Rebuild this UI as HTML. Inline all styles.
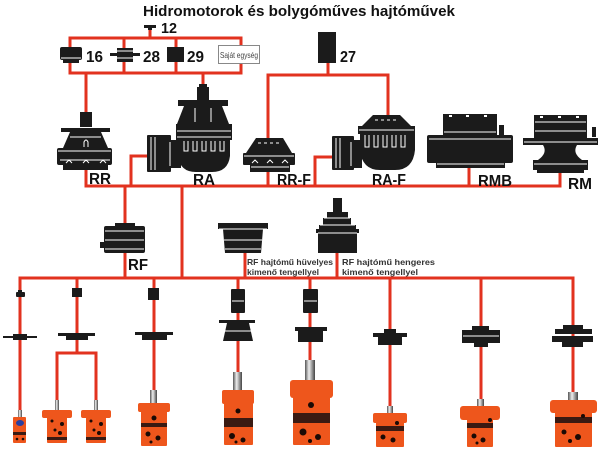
<!DOCTYPE html>
<html><head><meta charset="utf-8"><style>
html,body{margin:0;padding:0;background:#fff;}
svg{display:block;}
text{font-family:"Liberation Sans",Arial,sans-serif;font-weight:bold;}
</style></head><body>
<svg width="600" height="453" viewBox="0 0 600 453" xmlns="http://www.w3.org/2000/svg">
<defs>
<linearGradient id="sh" x1="0" x2="1" y1="0" y2="0">
<stop offset="0" stop-color="#555"/><stop offset="0.4" stop-color="#eee"/><stop offset="0.7" stop-color="#999"/><stop offset="1" stop-color="#444"/>
</linearGradient>
</defs>
<rect width="600" height="453" fill="#fff"/>

<!-- Title -->
<text x="143" y="16" font-size="14.5" fill="#111" textLength="312" lengthAdjust="spacingAndGlyphs">Hidromotorok és bolygóműves hajtóművek</text>

<!-- Red connector lines -->
<g stroke="#e2321f" stroke-width="3" fill="none" stroke-linecap="square">
 <!-- top frame -->
 <line x1="150" y1="28" x2="150" y2="38"/>
 <line x1="70" y1="38" x2="241" y2="38"/>
 <line x1="70" y1="73" x2="241" y2="73"/>
 <line x1="70" y1="38" x2="70" y2="73"/>
 <line x1="124" y1="38" x2="124" y2="73"/>
 <line x1="176" y1="38" x2="176" y2="73"/>
 <line x1="241" y1="38" x2="241" y2="73"/>
 <line x1="86" y1="73" x2="86" y2="112"/>
 <line x1="203" y1="73" x2="203" y2="86"/>
 <!-- 27 -->
 <line x1="328" y1="63" x2="328" y2="75"/>
 <line x1="268" y1="75" x2="388" y2="75"/>
 <line x1="268" y1="75" x2="268" y2="139"/>
 <line x1="388" y1="75" x2="388" y2="116"/>
 <!-- main bar -->
 <line x1="86" y1="170" x2="86" y2="186"/>
 <line x1="86" y1="186" x2="560" y2="186"/>
 <polyline points="131,186 131,156 148,156"/>
 <line x1="268" y1="172" x2="268" y2="186"/>
 <polyline points="315,186 315,157 332,157"/>
 <line x1="469" y1="168" x2="469" y2="186"/>
 <line x1="560" y1="172" x2="560" y2="186"/>
 <line x1="125" y1="186" x2="125" y2="223"/>
 <line x1="182" y1="186" x2="182" y2="278"/>
 <!-- second bar -->
 <line x1="20" y1="278" x2="573" y2="278"/>
 <line x1="125" y1="253" x2="125" y2="278"/>
 <line x1="245" y1="253" x2="245" y2="278"/>
 <line x1="337" y1="253" x2="337" y2="278"/>
 <!-- drops -->
 <line x1="20" y1="278" x2="20" y2="411"/>
 <line x1="77" y1="278" x2="77" y2="353"/>
 <line x1="57" y1="353" x2="96" y2="353"/>
 <line x1="57" y1="353" x2="57" y2="401"/>
 <line x1="96" y1="353" x2="96" y2="401"/>
 <line x1="154" y1="278" x2="154" y2="391"/>
 <line x1="238" y1="278" x2="238" y2="373"/>
 <line x1="310" y1="278" x2="310" y2="361"/>
 <line x1="390" y1="278" x2="390" y2="407"/>
 <line x1="481" y1="278" x2="481" y2="400"/>
 <line x1="573" y1="278" x2="573" y2="393"/>
</g>

<!-- Top small components -->
<g fill="#1b1b1b">
 <rect x="144" y="25" width="12" height="3"/>
 <rect x="148" y="27" width="4" height="3"/>
 <!-- 16 -->
 <rect x="60" y="47" width="22" height="13" rx="2"/>
 <rect x="63" y="59" width="16" height="4"/>
 <!-- 28 -->
 <rect x="110" y="53" width="30" height="3"/>
 <rect x="117" y="48" width="16" height="14"/>
 <!-- 29 -->
 <rect x="167" y="47" width="17" height="15"/>
 <!-- 27 -->
 <rect x="318" y="32" width="18" height="31"/>
</g>
<g stroke="#fff" stroke-width="1">
 <line x1="117" y1="51" x2="133" y2="51"/>
 <line x1="117" y1="58" x2="133" y2="58"/>
 <line x1="61" y1="58" x2="81" y2="58"/>
</g>
<rect x="218.5" y="45.5" width="41" height="18" fill="#fff" stroke="#888" stroke-width="1"/>
<text x="220" y="58" font-size="8.5" fill="#444" font-weight="normal" style="font-weight:normal" textLength="38" lengthAdjust="spacingAndGlyphs">Saját egység</text>

<g font-size="16" fill="#111">
 <text x="161" y="33" font-size="15" textLength="16" lengthAdjust="spacingAndGlyphs">12</text>
 <text x="86" y="62" textLength="17" lengthAdjust="spacingAndGlyphs">16</text>
 <text x="143" y="62" textLength="17" lengthAdjust="spacingAndGlyphs">28</text>
 <text x="187" y="62" textLength="17" lengthAdjust="spacingAndGlyphs">29</text>
 <text x="340" y="62" textLength="16" lengthAdjust="spacingAndGlyphs">27</text>
</g>

<!-- RR -->
<g fill="#1b1b1b">
 <rect x="80" y="112" width="12" height="15"/>
 <rect x="61" y="128" width="49" height="4"/>
 <path d="M70 132 L101 132 L108 148 L63 148 Z"/>
 <rect x="57" y="148" width="55" height="17" rx="2"/>
 <rect x="63" y="164" width="45" height="6"/>
</g>
<g stroke="#fff" stroke-width="1" fill="none">
 <line x1="70" y1="137" x2="101" y2="137"/>
 <path d="M84 147 L84 142 Q86 138 88 142 L88 147"/>
 <line x1="58" y1="151" x2="111" y2="151"/>
 <line x1="60" y1="160" x2="110" y2="160"/>
 <path d="M66 163 l3 -3 l3 3 M83 163 l3 -3 l3 3 M100 163 l3 -3 l3 3"/>
</g>

<!-- RA -->
<g fill="#1b1b1b">
 <rect x="199" y="84" width="8" height="4"/>
 <rect x="197" y="87" width="12" height="14"/>
 <rect x="178" y="100" width="50" height="6"/>
 <path d="M184 106 L222 106 L229 124 L177 124 Z"/>
 <rect x="176" y="124" width="56" height="16"/>
 <path d="M178 140 L230 140 L230 156 Q228 172 212 172 L196 172 Q180 172 178 156 Z"/>
 <rect x="147" y="135" width="24" height="37" rx="1"/>
 <rect x="169" y="140" width="12" height="28"/>
</g>
<g stroke="#fff" stroke-width="1" fill="none">
 <line x1="195" y1="108" x2="195" y2="122"/>
 <line x1="211" y1="108" x2="211" y2="122"/>
 <line x1="177" y1="131" x2="231" y2="131"/>
 <line x1="177" y1="137" x2="231" y2="137"/>
 <path d="M184 141 v10 h4 v-10 M193 141 v10 h4 v-10 M202 141 v10 h4 v-10 M211 141 v10 h4 v-10 M220 141 v10 h4 v-10"/>
 <line x1="151" y1="137" x2="151" y2="170"/>
 <line x1="155" y1="137" x2="155" y2="170"/>
 <line x1="170" y1="142" x2="170" y2="166"/>
</g>

<!-- RR-F -->
<g fill="#1b1b1b">
 <path d="M256 138 L283 138 L292 153 L246 153 Z"/>
 <rect x="243" y="153" width="52" height="12" rx="1"/>
 <rect x="250" y="164" width="40" height="8"/>
</g>
<g stroke="#fff" stroke-width="1" fill="none">
 <line x1="258" y1="143" x2="281" y2="143" stroke-dasharray="3 3"/>
 <line x1="244" y1="156" x2="294" y2="156"/>
 <path d="M252 163 l3 -3 l3 3 M267 163 l3 -3 l3 3 M282 163 l3 -3 l3 3"/>
 <line x1="251" y1="167" x2="289" y2="167"/>
</g>

<!-- RA-F -->
<g fill="#1b1b1b">
 <path d="M373 115 L400 115 L411 126 L362 126 Z"/>
 <rect x="358" y="126" width="57" height="8"/>
 <path d="M360 134 L415 134 L415 150 Q413 170 395 170 L380 170 Q362 170 360 150 Z"/>
 <rect x="332" y="136" width="22" height="34" rx="1"/>
 <rect x="350" y="140" width="12" height="28"/>
</g>
<g stroke="#fff" stroke-width="1" fill="none">
 <line x1="375" y1="120" x2="398" y2="120" stroke-dasharray="3 3"/>
 <line x1="359" y1="130" x2="414" y2="130"/>
 <path d="M365 135 v12 h4 v-12 M374 135 v12 h4 v-12 M383 135 v12 h4 v-12 M392 135 v12 h4 v-12 M401 135 v12 h4 v-12"/>
 <line x1="336" y1="138" x2="336" y2="168"/>
 <line x1="340" y1="138" x2="340" y2="168"/>
 <line x1="351" y1="142" x2="351" y2="166"/>
</g>

<!-- RMB -->
<g fill="#1b1b1b">
 <rect x="443" y="114" width="54" height="21"/>
 <rect x="499" y="125" width="5" height="10"/>
 <rect x="427" y="135" width="86" height="28" rx="2"/>
 <rect x="436" y="162" width="69" height="6"/>
</g>
<g fill="#fff">
 <rect x="449" y="115" width="3" height="2"/><rect x="466" y="115" width="3" height="2"/><rect x="484" y="115" width="3" height="2"/>
</g>
<g stroke="#fff" stroke-width="1">
 <line x1="444" y1="132" x2="496" y2="132"/>
 <line x1="429" y1="139" x2="511" y2="139"/>
 <line x1="437" y1="164" x2="504" y2="164"/>
</g>

<!-- RM -->
<g fill="#1b1b1b">
 <rect x="534" y="115" width="53" height="23"/>
 <rect x="592" y="127" width="4" height="10"/>
 <rect x="523" y="138" width="75" height="7"/>
 <path d="M543 145 L577 145 Q572 153 582 160 L538 160 Q548 153 543 145 Z"/>
 <rect x="533" y="160" width="55" height="10"/>
 <rect x="537" y="169" width="47" height="4"/>
</g>
<g fill="#fff">
 <rect x="540" y="116" width="3" height="2"/><rect x="558" y="116" width="3" height="2"/><rect x="576" y="116" width="3" height="2"/>
</g>
<g stroke="#fff" stroke-width="1">
 <line x1="535" y1="122" x2="586" y2="122"/>
 <line x1="535" y1="131" x2="586" y2="131"/>
 <line x1="524" y1="142" x2="597" y2="142"/>
 <line x1="534" y1="164" x2="587" y2="164"/>
</g>

<!-- Top labels -->
<g font-size="16" fill="#111">
 <text x="89" y="184" textLength="22" lengthAdjust="spacingAndGlyphs">RR</text>
 <text x="193" y="185" textLength="22" lengthAdjust="spacingAndGlyphs">RA</text>
 <text x="277" y="185" textLength="34" lengthAdjust="spacingAndGlyphs">RR-F</text>
 <text x="372" y="185" textLength="34" lengthAdjust="spacingAndGlyphs">RA-F</text>
 <text x="478" y="186" textLength="34" lengthAdjust="spacingAndGlyphs">RMB</text>
 <text x="568" y="189" textLength="24" lengthAdjust="spacingAndGlyphs">RM</text>
 <text x="128" y="270" textLength="20" lengthAdjust="spacingAndGlyphs">RF</text>
</g>

<!-- RF -->
<g fill="#1b1b1b">
 <rect x="115" y="223" width="20" height="4"/>
 <rect x="104" y="226" width="41" height="27" rx="2"/>
 <rect x="100" y="242" width="5" height="6"/>
</g>
<g stroke="#fff" stroke-width="1">
 <line x1="105" y1="231" x2="144" y2="231"/>
 <line x1="105" y1="240" x2="144" y2="240"/>
 <line x1="105" y1="249" x2="144" y2="249"/>
</g>

<!-- RF hüvelyes -->
<g fill="#1b1b1b">
 <rect x="218" y="223" width="50" height="6"/>
 <path d="M223 229 L263 229 L261 253 L225 253 Z"/>
</g>
<g stroke="#fff" stroke-width="1">
 <line x1="219" y1="229" x2="267" y2="229"/>
 <line x1="224" y1="240" x2="262" y2="240"/>
 <line x1="225" y1="249" x2="261" y2="249"/>
</g>

<!-- RF hengeres (joystick) -->
<g fill="#1b1b1b">
 <rect x="333" y="198" width="9" height="15"/>
 <rect x="327" y="212" width="21" height="6"/>
 <rect x="323" y="218" width="28" height="7"/>
 <rect x="319" y="225" width="37" height="5"/>
 <rect x="316" y="229" width="43" height="4"/>
 <rect x="318" y="233" width="39" height="20"/>
</g>
<g stroke="#fff" stroke-width="1">
 <line x1="324" y1="218" x2="350" y2="218"/>
 <line x1="320" y1="225" x2="355" y2="225"/>
 <line x1="318" y1="233" x2="357" y2="233"/>
</g>

<g font-size="8.5" fill="#333">
 <text x="247" y="265" textLength="86" lengthAdjust="spacingAndGlyphs">RF hajtómű hüvelyes</text>
 <text x="247" y="275" textLength="72" lengthAdjust="spacingAndGlyphs">kimenő tengellyel</text>
 <text x="342" y="265" textLength="93" lengthAdjust="spacingAndGlyphs">RF hajtómű hengeres</text>
 <text x="342" y="275" textLength="76" lengthAdjust="spacingAndGlyphs">kimenő tengellyel</text>
</g>

<!-- Drop components -->
<g fill="#1b1b1b">
 <!-- drop 1 -->
 <rect x="18" y="290" width="4" height="3"/>
 <rect x="16" y="292" width="9" height="5" rx="1"/>
 <rect x="3" y="336" width="34" height="2"/>
 <rect x="13" y="334" width="14" height="6"/>
 <!-- drop 2 -->
 <rect x="72" y="288" width="10" height="9"/>
 <rect x="58" y="333" width="37" height="3"/>
 <rect x="66" y="335" width="22" height="5"/>
 <!-- drop 3 -->
 <rect x="148" y="288" width="11" height="12"/>
 <rect x="135" y="332" width="38" height="3"/>
 <rect x="142" y="334" width="25" height="6"/>
 <!-- drop 4 -->
 <rect x="231" y="289" width="14" height="24" rx="1"/>
 <rect x="219" y="320" width="36" height="3"/>
 <path d="M227 323 L249 323 L253 341 L223 341 Z"/>
 <!-- drop 5 -->
 <rect x="303" y="289" width="15" height="24" rx="1"/>
 <rect x="295" y="327" width="32" height="4"/>
 <rect x="298" y="331" width="25" height="11"/>
 <!-- drop 6 -->
 <rect x="384" y="329" width="12" height="4"/>
 <rect x="373" y="333" width="34" height="4"/>
 <rect x="378" y="337" width="24" height="8"/>
 <!-- drop 7 -->
 <rect x="472" y="326" width="17" height="4"/>
 <rect x="462" y="330" width="38" height="13"/>
 <rect x="474" y="343" width="14" height="4"/>
 <!-- drop 8 -->
 <rect x="563" y="325" width="20" height="4"/>
 <rect x="555" y="329" width="37" height="5"/>
 <rect x="552" y="336" width="41" height="6"/>
 <rect x="562" y="342" width="21" height="5"/>
</g>
<g stroke="#fff" stroke-width="1">
 <line x1="232" y1="301" x2="244" y2="301"/>
 <line x1="304" y1="301" x2="317" y2="301"/>
 <line x1="224" y1="331" x2="252" y2="331"/>
 <line x1="463" y1="336" x2="499" y2="336"/>
</g>

<!-- Motors -->
<g>
 <!-- shafts -->
 <rect x="18" y="410" width="4" height="8" fill="url(#sh)"/>
 <rect x="55" y="400" width="4" height="11" fill="url(#sh)"/>
 <rect x="94" y="400" width="4" height="11" fill="url(#sh)"/>
 <rect x="150" y="390" width="7" height="14" fill="url(#sh)"/>
 <rect x="233" y="372" width="9" height="19" fill="url(#sh)"/>
 <rect x="305" y="360" width="10" height="21" fill="url(#sh)"/>
 <rect x="387" y="406" width="6" height="8" fill="url(#sh)"/>
 <rect x="477" y="399" width="7" height="8" fill="url(#sh)"/>
 <rect x="568" y="392" width="10" height="9" fill="url(#sh)"/>
</g>
<g fill="#ee561c">
 <!-- motor 1 -->
 <rect x="13" y="417" width="13" height="26" rx="1"/>
 <!-- motor 2a -->
 <rect x="42" y="410" width="30" height="8" rx="2"/>
 <rect x="47" y="417" width="20" height="26" rx="1"/>
 <!-- motor 2b -->
 <rect x="81" y="410" width="30" height="8" rx="2"/>
 <rect x="86" y="417" width="20" height="26" rx="1"/>
 <!-- motor 3 -->
 <rect x="138" y="403" width="32" height="9" rx="2"/>
 <rect x="141" y="411" width="26" height="35" rx="1"/>
 <!-- motor 4 -->
 <rect x="222" y="390" width="32" height="14" rx="2"/>
 <rect x="224" y="403" width="29" height="42" rx="1"/>
 <!-- motor 5 -->
 <rect x="290" y="380" width="43" height="18" rx="3"/>
 <rect x="293" y="397" width="37" height="48" rx="1"/>
 <!-- motor 6 -->
 <rect x="373" y="413" width="34" height="10" rx="2"/>
 <rect x="376" y="422" width="28" height="25" rx="1"/>
 <!-- motor 7 -->
 <rect x="460" y="406" width="40" height="14" rx="3"/>
 <rect x="467" y="419" width="26" height="28" rx="1"/>
 <!-- motor 8 -->
 <rect x="550" y="400" width="47" height="13" rx="3"/>
 <rect x="555" y="412" width="37" height="35" rx="1"/>
</g>
<!-- bands -->
<g fill="#3a1a12">
 <rect x="13" y="432" width="13" height="3"/>
 <rect x="47" y="437" width="20" height="3"/>
 <rect x="86" y="437" width="20" height="3"/>
 <rect x="141" y="423" width="26" height="4"/>
 <rect x="224" y="418" width="29" height="9"/>
 <rect x="293" y="413" width="37" height="10"/>
 <rect x="376" y="426" width="28" height="5"/>
 <rect x="467" y="423" width="26" height="5"/>
 <rect x="555" y="417" width="37" height="6"/>
</g>
<ellipse cx="20" cy="423" rx="4" ry="3" fill="#2a3fa0"/>
<!-- holes -->
<g fill="#1a0a05">
 <circle cx="17" cy="439" r="1.3"/><circle cx="23" cy="439" r="1.3"/>
 <circle cx="52" cy="421" r="1.5"/><circle cx="62" cy="424" r="2"/><circle cx="55" cy="430" r="1.5"/><circle cx="60" cy="433" r="2"/>
 <circle cx="91" cy="421" r="1.5"/><circle cx="101" cy="424" r="2"/><circle cx="94" cy="430" r="1.5"/><circle cx="99" cy="433" r="2"/>
 <circle cx="154" cy="418" r="2.5"/><circle cx="148" cy="434" r="2.5"/><circle cx="158" cy="438" r="2.5"/><circle cx="151" cy="442" r="1.5"/>
 <circle cx="238" cy="411" r="2.5"/><circle cx="232" cy="436" r="3"/><circle cx="243" cy="440" r="2.5"/><circle cx="236" cy="442" r="1.5"/>
 <circle cx="311" cy="405" r="3"/><circle cx="303" cy="432" r="3.5"/><circle cx="318" cy="437" r="3"/><circle cx="310" cy="441" r="2"/>
 <circle cx="397" cy="423" r="2"/><circle cx="383" cy="437" r="2.5"/><circle cx="393" cy="440" r="2.5"/>
 <circle cx="490" cy="420" r="2"/><circle cx="474" cy="436" r="2.5"/><circle cx="483" cy="440" r="2.5"/><circle cx="477" cy="443" r="1.5"/>
 <circle cx="583" cy="416" r="2"/><circle cx="564" cy="432" r="2.5"/><circle cx="578" cy="437" r="3"/><circle cx="570" cy="441" r="2"/>
</g>
</svg>
</body></html>
